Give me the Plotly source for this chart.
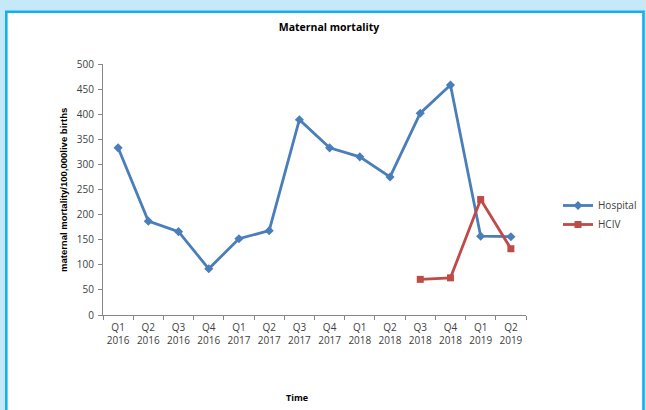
import plotly.graph_objects as go

categories = ["Q1<br>2016", "Q2<br>2016", "Q3<br>2016", "Q4<br>2016",
              "Q1<br>2017", "Q2<br>2017", "Q3<br>2017", "Q4<br>2017",
              "Q1<br>2018", "Q2<br>2018", "Q3<br>2018", "Q4<br>2018",
              "Q1<br>2019", "Q2<br>2019"]
hospital = [333, 187, 166, 92, 152, 168, 389, 333, 315, 275, 402, 458, 157, 156]
hciv_categories = ["Q3<br>2018", "Q4<br>2018", "Q1<br>2019", "Q2<br>2019"]
hciv = [71, 74, 230, 132]
y_ticks = [0, 50, 100, 150, 200, 250, 300, 350, 400, 450, 500]

W, H = 646, 410
L, R, T, B = 103, 526, 64, 315
pw, ph = R - L, B - T

def px(x):
    return (x - L) / pw

def py(y):
    return (B - y) / ph

fig = go.Figure()
fig.add_trace(go.Scatter(
    x=categories, y=hospital, name="Hospital", mode="lines+markers",
    line=dict(color="#4A7EBB", width=2.8),
    marker=dict(symbol="diamond", size=7, color="#4A7EBB"),
))
fig.add_trace(go.Scatter(
    x=hciv_categories, y=hciv, name="HCIV", mode="lines+markers",
    line=dict(color="#BE4B48", width=2.8),
    marker=dict(symbol="square", size=7, color="#BE4B48"),
))

fig.add_shape(type="rect", xref="paper", yref="paper",
              x0=px(6.3), x1=px(643.5), y0=py(440), y1=py(11.8),
              line=dict(color="#14AFEF", width=2.6), fillcolor="white",
              layer="below")

fig.add_annotation(text="<b>maternal mortality/100,000live births</b>",
                   xref="paper", yref="paper", x=px(63), y=py(190),
                   xanchor="center", yanchor="middle", textangle=-90, showarrow=False,
                   font=dict(family="Liberation Sans Narrow, Liberation Sans", size=9.5, color="#000000"))
fig.add_annotation(text="<b>Time</b>",
                   xref="paper", yref="paper", x=px(297), y=py(397),
                   xanchor="center", yanchor="middle", showarrow=False,
                   font=dict(family="Open Sans", size=9, color="#000000"))

tickfont = dict(family="Open Sans", size=10, color="#404040")
fig.update_layout(
    width=W, height=H,
    margin=dict(l=L, r=W - R, t=T, b=H - B, pad=0, autoexpand=False),
    paper_bgcolor="#C6E9F9",
    plot_bgcolor="rgba(0,0,0,0)",
    title=dict(text="<b>Maternal mortality</b>", x=329 / W, xanchor="center",
               y=1 - 27 / H, yanchor="middle",
               font=dict(family="Open Sans", size=10.5, color="#000000")),
    xaxis=dict(
        categoryorder="array", categoryarray=categories, automargin=False,
        showline=True, linecolor="#868686", linewidth=1,
        ticks="outside", tickson="boundaries", ticklen=4, tickcolor="#868686",
        showgrid=False, zeroline=False, tickfont=tickfont, tickangle=0,
        ticklabelstandoff=3,
        range=[-0.5, len(categories) - 0.5],
    ),
    yaxis=dict(
        range=[0, 500], tickvals=y_ticks, automargin=False,
        showline=True, linecolor="#868686", linewidth=1,
        ticks="outside", ticklen=4, tickcolor="#868686",
        showgrid=False, zeroline=False, tickfont=tickfont,
        ticklabelstandoff=2,
    ),
    showlegend=True,
    legend=dict(x=px(558), y=py(191), xanchor="left", yanchor="top",
                bgcolor="rgba(0,0,0,0)",
                font=dict(family="Open Sans", size=10, color="#404040"),
                tracegroupgap=0, itemwidth=30),
)

fig.write_html("out.html", config={"displayModeBar": False},
               post_script="document.body.style.margin='0';document.body.style.background='#C6E9F9';")
